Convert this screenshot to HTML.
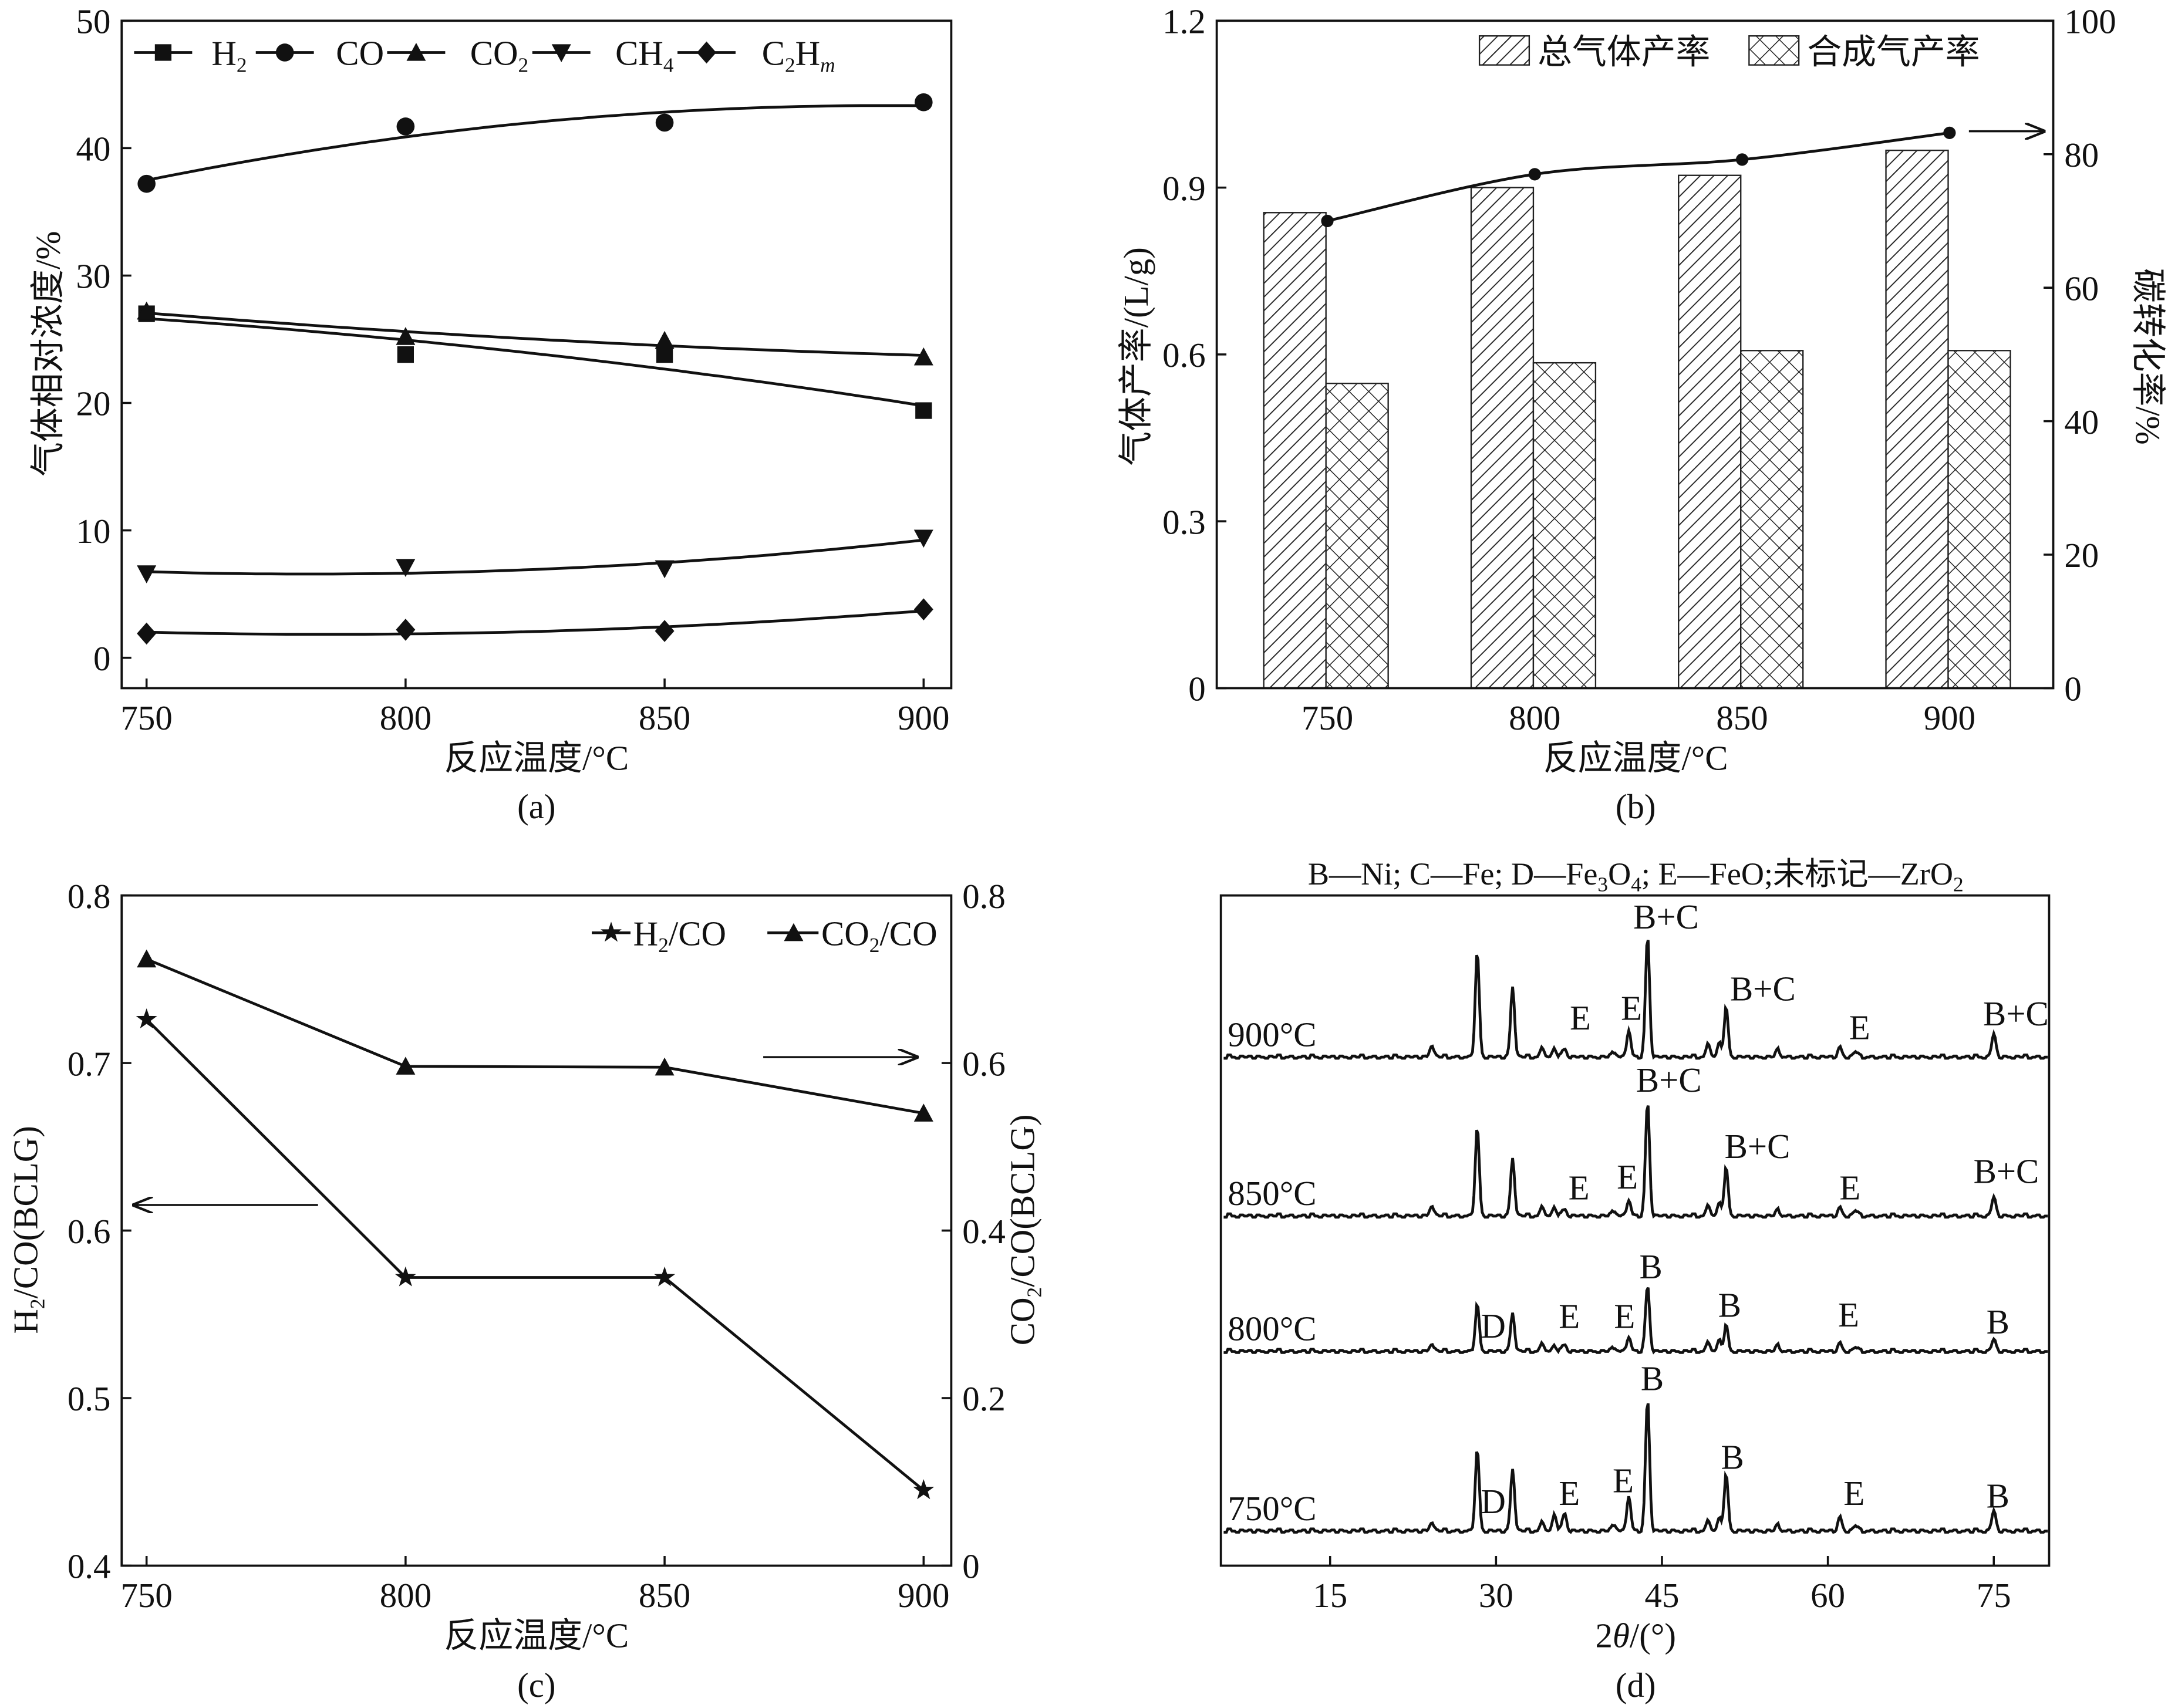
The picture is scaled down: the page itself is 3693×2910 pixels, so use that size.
<!DOCTYPE html>
<html><head><meta charset="utf-8"><style>
html,body{margin:0;padding:0;background:#fff}
svg{display:block}
text{font-family:"Liberation Serif","Noto Serif CJK SC","Noto Sans CJK SC",serif;fill:#111}
.cj{font-family:"Liberation Serif","Noto Sans CJK SC",sans-serif}
</style></head><body>
<svg id="fig" width="3693" height="2910" viewBox="0 0 1568 1236" preserveAspectRatio="none" xmlns="http://www.w3.org/2000/svg">
<defs>
<pattern id="diag" patternUnits="userSpaceOnUse" width="7" height="7" patternTransform="rotate(45)"><rect width="7" height="7" fill="#fff"/><line x1="0" y1="0" x2="0" y2="7" stroke="#222" stroke-width="1.6"/></pattern>
<pattern id="cross" patternUnits="userSpaceOnUse" width="10" height="10" patternTransform="rotate(45)"><rect width="10" height="10" fill="#fff"/><line x1="0" y1="0" x2="0" y2="10" stroke="#222" stroke-width="1.3"/><line x1="0" y1="0" x2="10" y2="0" stroke="#222" stroke-width="1.3"/></pattern>
<marker id="ah" markerWidth="10" markerHeight="8" refX="9" refY="4" orient="auto"><path d="M0,0 L10,4 L0,8" fill="none" stroke="#111" stroke-width="1.2"/></marker>
</defs>
<g id="pa"></g>
<g id="pb"></g>
<g id="pc"></g>
<g id="pd"></g>
</svg>
<script>
// ---- Panel a data ----
const tempsA = [750, 800, 850, 900];
const seriesNamesA = ["H2", "CO", "CO2", "CH4", "C2Hm"];
const h2Vals = [27.0, 23.8, 23.8, 19.4];
const coVals = [37.2, 41.7, 42.0, 43.6];
const co2Vals = [27.2, 25.2, 24.9, 23.6];
const ch4Vals = [6.6, 7.1, 7.0, 9.4];
const c2hmVals = [1.9, 2.2, 2.1, 3.8];
const yTicksA = [0, 10, 20, 30, 40, 50];
// ---- Panel b data ----
const tempsB = ["750", "800", "850", "900"];
const totalYield = [0.855, 0.900, 0.922, 0.967];
const syngasYield = [0.548, 0.585, 0.607, 0.607];
const carbonConv = [70.0, 77.0, 79.2, 83.2];
const yTicksBL = [0, 0.3, 0.6, 0.9, 1.2];
const yTicksBR = [0, 20, 40, 60, 80, 100];
// ---- Panel c data ----
const tempsC = [750, 800, 850, 900];
const h2coVals = [0.726, 0.572, 0.572, 0.445];
const co2coVals = [0.724, 0.596, 0.595, 0.540];
const yTicksCL = [0.4, 0.5, 0.6, 0.7, 0.8];
const yTicksCR = [0, 0.2, 0.4, 0.6, 0.8];
// ---- Panel d data (XRD) ----
const xTicksD = [15, 30, 45, 60, 75];
const xrdLabels = ["900°C", "850°C", "800°C", "750°C"];
const peakAngles = [24.2, 28.3, 31.5, 34.2, 35.3, 36.2, 40.7, 42.0, 43.7, 49.2, 50.2, 50.8, 55.5, 61.1, 62.5, 75.0];
const peaks900 = [9, 75, 51, 7, 6, 6, 4, 20, 88, 10, 10, 35, 5, 7, 4, 17];
const peaks850 = [8, 63, 42, 7, 6, 5, 4, 12, 83, 8, 9, 34, 4, 6, 4, 14];
const peaks800 = [6, 33, 28, 6, 4, 5, 3, 11, 48, 7, 8, 18, 4, 6, 3, 9];
const peaks750 = [7, 58, 45, 7, 12, 13, 5, 26, 96, 8, 9, 40, 4, 10, 4, 15];
const baseNoise = [0, 1, -1, 1, 0, -1, 1, 0, 2, -1, 0, 1, -1, 0, 1, -1, 2, 0, -1, 1];

const NS = "http://www.w3.org/2000/svg";
function el(parent, tag, attrs, txt) {
  const e = document.createElementNS(NS, tag);
  for (const k in attrs) e.setAttribute(k, attrs[k]);
  if (txt !== undefined) e.textContent = txt;
  parent.appendChild(e);
  return e;
}
function smooth(pts) {
  let d = "M" + pts[0][0] + "," + pts[0][1];
  for (let i = 0; i < pts.length - 1; i++) {
    const p0 = pts[i - 1] || pts[i], p1 = pts[i], p2 = pts[i + 1], p3 = pts[i + 2] || p2;
    const c1 = [p1[0] + (p2[0] - p0[0]) / 6, p1[1] + (p2[1] - p0[1]) / 6];
    const c2 = [p2[0] - (p3[0] - p1[0]) / 6, p2[1] - (p3[1] - p1[1]) / 6];
    d += " C" + c1 + " " + c2 + " " + p2;
  }
  return d;
}
// least-squares quadratic fit
function quadFit(xs, ys) {
  const n = xs.length; let S = [0,0,0,0,0], T = [0,0,0];
  for (let i = 0; i < n; i++) { const x = xs[i]; for (let k = 0; k < 5; k++) S[k] += Math.pow(x, k); for (let k = 0; k < 3; k++) T[k] += ys[i] * Math.pow(x, k); }
  const A = [[S[0],S[1],S[2],T[0]],[S[1],S[2],S[3],T[1]],[S[2],S[3],S[4],T[2]]];
  for (let i = 0; i < 3; i++) { for (let j = i + 1; j < 3; j++) { const f = A[j][i] / A[i][i]; for (let k = i; k < 4; k++) A[j][k] -= f * A[i][k]; } }
  const c = [0,0,0];
  for (let i = 2; i >= 0; i--) { let s = A[i][3]; for (let k = i + 1; k < 3; k++) s -= A[i][k] * c[k]; c[i] = s / A[i][i]; }
  return x => c[0] + c[1] * x + c[2] * x * x;
}
function marker(g, type, x, y, s) {
  let m;
  if (type === "square") m = el(g, "rect", {x: x - s, y: y - s, width: 2 * s, height: 2 * s, fill: "#111"});
  else if (type === "circle") m = el(g, "circle", {cx: x, cy: y, r: s + 0.5, fill: "#111"});
  else if (type === "tri") m = el(g, "polygon", {points: `${x},${y - s - 1} ${x - s - 1},${y + s} ${x + s + 1},${y + s}`, fill: "#111"});
  else if (type === "itri") m = el(g, "polygon", {points: `${x},${y + s + 1} ${x - s - 1},${y - s} ${x + s + 1},${y - s}`, fill: "#111"});
  else if (type === "diamond") m = el(g, "polygon", {points: `${x},${y - s - 2} ${x + s + 1},${y} ${x},${y + s + 2} ${x - s - 1},${y}`, fill: "#111"});
  else if (type === "star") {
    let p = [];
    for (let i = 0; i < 10; i++) { const r = i % 2 ? s * 0.45 : s + 1; const a = -Math.PI / 2 + i * Math.PI / 5; p.push((x + r * Math.cos(a)).toFixed(1) + "," + (y + r * Math.sin(a)).toFixed(1)); }
    m = el(g, "polygon", {points: p.join(" "), fill: "#111"});
  }
  
  
  return m;
}
function frame(g, x0, y0, x1, y1) {
  const r = el(g, "rect", {x: x0, y: y0, width: x1 - x0, height: y1 - y0, fill: "none", stroke: "#111", "stroke-width": 1.6});
  
  
}
function label(g, x, y, txt, size, anchor, name, cls) {
  const t = el(g, "text", {x: x, y: y, "font-size": size, "text-anchor": anchor || "middle"});
  if (cls) t.setAttribute("class", cls);
  t.innerHTML = txt;
  
  
  return t;
}

// ================= Panel a =================
(function () {
  const g = document.getElementById("pa");
  const X0 = 88, X1 = 688, Y0 = 15, Y1 = 498;
  const xs = v => 106 + (v - 750) * (668 - 106) / 150;
  const ys = v => 476 - v * (476 - 15) / 50;
  frame(g, X0, Y0, X1, Y1);
  yTicksA.forEach(v => {
    el(g, "line", {x1: X0, x2: X0 + 7, y1: ys(v), y2: ys(v), stroke: "#111", "stroke-width": 1.5});
    label(g, X0 - 8, ys(v) + 9, v, 25, "end", "y-tick-label");
  });
  tempsA.forEach(v => {
    el(g, "line", {x1: xs(v), x2: xs(v), y1: Y1, y2: Y1 - 7, stroke: "#111", "stroke-width": 1.5});
    label(g, xs(v), Y1 + 30, v, 25, "middle", "x-tick-label");
  });
  label(g, 388, 557, "反应温度/°C", 25, "middle", "x-axis-title", "cj");
  label(g, 388, 592, "(a)", 25, "middle", "panel-label");
  const yt = label(g, 0, 0, "气体相对浓度/%", 25, "middle", "y-axis-title", "cj");
  yt.setAttribute("transform", "translate(43,256) rotate(-90)");
  const all = [h2Vals, coVals, co2Vals, ch4Vals, c2hmVals];
  const mk = ["square", "circle", "tri", "itri", "diamond"];
  all.forEach((vals, i) => {
    const sg = el(g, "g", {});
    
    
    const f = quadFit(tempsA.map(t => (t - 825) / 75), vals);
    let d = "";
    for (let t = 750; t <= 900; t += 3) d += (d ? " L" : "M") + xs(t).toFixed(1) + "," + ys(f((t - 825) / 75)).toFixed(1);
    el(sg, "path", {d: d, fill: "none", stroke: "#111", "stroke-width": 2});
    tempsA.forEach((t, j) => marker(sg, mk[i], xs(t), ys(vals[j]), 6));
  });
  // legend
  const lg = el(g, "g", {});
  
  
  const lm = [118, 206, 301, 406, 511];
  const lt = ["H<tspan font-size='15' dy='5'>2</tspan>", "CO", "CO<tspan font-size='15' dy='5'>2</tspan>", "CH<tspan font-size='15' dy='5'>4</tspan>", "C<tspan font-size='15' dy='5'>2</tspan><tspan dy='-5'>H</tspan><tspan font-size='15' dy='5' font-style='italic'>m</tspan>"];
  const lto = [153, 243, 340, 445, 551];
  lm.forEach((x, i) => {
    el(lg, "line", {x1: x - 21, x2: x + 21, y1: 38, y2: 38, stroke: "#111", "stroke-width": 2});
    marker(lg, mk[i], x, 38, 6);
    label(lg, lto[i], 47, lt[i], 25, "start", "legend-entry");
  });
})();

// ================= Panel b =================
(function () {
  const g = document.getElementById("pb");
  const X0 = 880, X1 = 1485, Y0 = 15, Y1 = 498;
  const xc = i => 960 + i * 150;
  const yl = v => Y1 - v * (Y1 - Y0) / 1.2;
  const yr = v => Y1 - v * (Y1 - Y0) / 100;
  tempsB.forEach((t, i) => {
    const b1 = el(g, "rect", {x: xc(i) - 46, y: yl(totalYield[i]), width: 45, height: Y1 - yl(totalYield[i]), fill: "url(#diag)", stroke: "#222", "stroke-width": 1});
    
    
    const b2 = el(g, "rect", {x: xc(i) - 1, y: yl(syngasYield[i]), width: 45, height: Y1 - yl(syngasYield[i]), fill: "url(#cross)", stroke: "#222", "stroke-width": 1});
    
    
    label(g, xc(i), Y1 + 30, t, 25, "middle", "x-tick-label");
  });
  frame(g, X0, Y0, X1, Y1);
  yTicksBL.forEach(v => {
    el(g, "line", {x1: X0, x2: X0 + 7, y1: yl(v), y2: yl(v), stroke: "#111", "stroke-width": 1.5});
    label(g, X0 - 8, yl(v) + 9, v === 0 ? "0" : v.toFixed(1), 25, "end", "y-left-tick-label");
  });
  yTicksBR.forEach(v => {
    el(g, "line", {x1: X1, x2: X1 - 7, y1: yr(v), y2: yr(v), stroke: "#111", "stroke-width": 1.5});
    label(g, X1 + 8, yr(v) + 9, v, 25, "start", "y-right-tick-label");
  });
  const pts = tempsB.map((t, i) => [xc(i), yr(carbonConv[i])]);
  const lg = el(g, "g", {});
  
  
  el(lg, "path", {d: smooth(pts), fill: "none", stroke: "#111", "stroke-width": 2});
  pts.forEach(p => marker(lg, "circle", p[0], p[1], 4));
  const ar = el(g, "line", {x1: 1424, y1: 95, x2: 1478, y2: 95, stroke: "#111", "stroke-width": 1.5, "marker-end": "url(#ah)"});
  
  
  label(g, 1183, 557, "反应温度/°C", 25, "middle", "x-axis-title", "cj");
  label(g, 1183, 592, "(b)", 25, "middle", "panel-label");
  const yt = label(g, 0, 0, "气体产率/(L/g)", 25, "middle", "y-left-axis-title", "cj");
  yt.setAttribute("transform", "translate(830,258) rotate(-90)");
  const yt2 = label(g, 0, 0, "碳转化率/%", 25, "middle", "y-right-axis-title", "cj");
  yt2.setAttribute("transform", "translate(1545,258) rotate(90)");
  const lg2 = el(g, "g", {});
  
  
  el(lg2, "rect", {x: 1070, y: 26, width: 36, height: 21, fill: "url(#diag)", stroke: "#222"});
  label(lg2, 1112, 46, "总气体产率", 25, "start", "legend-entry-total", "cj");
  el(lg2, "rect", {x: 1265, y: 26, width: 36, height: 21, fill: "url(#cross)", stroke: "#222"});
  label(lg2, 1307, 46, "合成气产率", 25, "start", "legend-entry-syngas", "cj");
})();

// ================= Panel c =================
(function () {
  const g = document.getElementById("pc");
  const X0 = 88, X1 = 688, Y0 = 648, Y1 = 1133;
  const xs = v => 106 + (v - 750) * (668 - 106) / 150;
  const yl = v => Y1 - (v - 0.4) * (Y1 - Y0) / 0.4;
  const yr = v => Y1 - v * (Y1 - Y0) / 0.8;
  frame(g, X0, Y0, X1, Y1);
  yTicksCL.forEach(v => {
    el(g, "line", {x1: X0, x2: X0 + 7, y1: yl(v), y2: yl(v), stroke: "#111", "stroke-width": 1.5});
    label(g, X0 - 8, yl(v) + 9, v.toFixed(1), 25, "end", "y-left-tick-label");
  });
  yTicksCR.forEach(v => {
    el(g, "line", {x1: X1, x2: X1 - 7, y1: yr(v), y2: yr(v), stroke: "#111", "stroke-width": 1.5});
    label(g, X1 + 8, yr(v) + 9, v === 0 ? "0" : v.toFixed(1), 25, "start", "y-right-tick-label");
  });
  tempsC.forEach(v => {
    el(g, "line", {x1: xs(v), x2: xs(v), y1: Y1, y2: Y1 - 7, stroke: "#111", "stroke-width": 1.5});
    label(g, xs(v), Y1 + 30, v, 25, "middle", "x-tick-label");
  });
  const s1 = el(g, "g", {});
  
  
  const p1 = tempsC.map((t, i) => [xs(t), yl(h2coVals[i])]);
  el(s1, "polyline", {points: p1.join(" "), fill: "none", stroke: "#111", "stroke-width": 2});
  p1.forEach(p => marker(s1, "star", p[0], p[1], 7));
  const s2 = el(g, "g", {});
  
  
  const p2 = tempsC.map((t, i) => [xs(t), yr(co2coVals[i])]);
  el(s2, "polyline", {points: p2.join(" "), fill: "none", stroke: "#111", "stroke-width": 2});
  p2.forEach(p => marker(s2, "tri", p[0], p[1], 6));
  const a1 = el(g, "line", {x1: 552, y1: 765, x2: 663, y2: 765, stroke: "#111", "stroke-width": 1.5, "marker-end": "url(#ah)"});
  
  
  const a2 = el(g, "line", {x1: 230, y1: 872, x2: 97, y2: 872, stroke: "#111", "stroke-width": 1.5, "marker-end": "url(#ah)"});
  
  
  const lg = el(g, "g", {});
  
  
  el(lg, "line", {x1: 428, x2: 456, y1: 675, y2: 675, stroke: "#111", "stroke-width": 2});
  marker(lg, "star", 442, 675, 7);
  label(lg, 458, 684, "H<tspan font-size='15' dy='5'>2</tspan><tspan dy='-5'>/CO</tspan>", 25, "start", "legend-entry-h2-co");
  el(lg, "line", {x1: 555, x2: 592, y1: 675, y2: 675, stroke: "#111", "stroke-width": 2});
  marker(lg, "tri", 574, 675, 6);
  label(lg, 594, 684, "CO<tspan font-size='15' dy='5'>2</tspan><tspan dy='-5'>/CO</tspan>", 25, "start", "legend-entry-co2-co");
  label(g, 388, 1192, "反应温度/°C", 25, "middle", "x-axis-title", "cj");
  label(g, 388, 1228, "(c)", 25, "middle", "panel-label");
  const yt = label(g, 0, 0, "H<tspan font-size='15' dy='5'>2</tspan><tspan dy='-5'>/CO(BCLG)</tspan>", 25, "middle", "y-left-axis-title");
  yt.setAttribute("transform", "translate(27,890) rotate(-90)");
  const yt2 = label(g, 0, 0, "CO<tspan font-size='15' dy='5'>2</tspan><tspan dy='-5'>/CO(BCLG)</tspan>", 25, "middle", "y-right-axis-title");
  yt2.setAttribute("transform", "translate(748,890) rotate(-90)");
})();

// ================= Panel d =================
(function () {
  const g = document.getElementById("pd");
  const X0 = 883, X1 = 1482, Y0 = 648, Y1 = 1133;
  const xs = v => 962 + (v - 15) * 8;
  const bases = [765, 880, 978, 1108];
  const peaksAll = [peaks900, peaks850, peaks800, peaks750];
  frame(g, X0, Y0, X1, Y1);
  xTicksD.forEach(v => {
    el(g, "line", {x1: xs(v), x2: xs(v), y1: Y1, y2: Y1 - 7, stroke: "#111", "stroke-width": 1.5});
    label(g, xs(v), Y1 + 30, v, 25, "middle", "x-tick-label");
  });
  peaksAll.forEach((pk, k) => {
    let d = "";
    for (let px = X0 + 2; px <= X1 - 1; px += 1) {
      const ang = 15 + (px - 962) / 8;
      let y = baseNoise[Math.floor(px / 3) % baseNoise.length] * 0.8;
      peakAngles.forEach((a, j) => { const w = 0.18; y += pk[j] * Math.exp(-((ang - a) * (ang - a)) / (2 * w * w)); });
      d += (d ? " L" : "M") + px + "," + (bases[k] - y).toFixed(1);
    }
    const p = el(g, "path", {d: d, fill: "none", stroke: "#111", "stroke-width": 2});
    
    
    label(g, 888, bases[k] - 8, xrdLabels[k], 25, "start", "pattern-label");
  });
  const ann = [
    [1205, 672, "B+C"], [1143, 745, "E"], [1180, 738, "E"], [1275, 724, "B+C"], [1345, 752, "E"], [1458, 742, "B+C"],
    [1207, 790, "B+C"], [1142, 868, "E"], [1177, 860, "E"], [1271, 838, "B+C"], [1338, 868, "E"], [1451, 856, "B+C"],
    [1194, 925, "B"], [1080, 968, "D"], [1135, 961, "E"], [1175, 961, "E"], [1251, 953, "B"], [1337, 960, "E"], [1445, 965, "B"],
    [1195, 1006, "B"], [1080, 1095, "D"], [1135, 1089, "E"], [1174, 1080, "E"], [1253, 1063, "B"], [1341, 1089, "E"], [1445, 1091, "B"]
  ];
  ann.forEach(a => label(g, a[0], a[1], a[2], 25, "middle", "peak-annotation"));
  label(g, 1183, 640, "B—Ni; C—Fe; D—Fe<tspan font-size='15' dy='5'>3</tspan><tspan dy='-5'>O</tspan><tspan font-size='15' dy='5'>4</tspan><tspan dy='-5'>; E—FeO;未标记—ZrO</tspan><tspan font-size='15' dy='5'>2</tspan>", 23, "middle", "phase-key", "cj");
  label(g, 1183, 1192, "2<tspan font-style='italic'>θ</tspan>/(°)", 25, "middle", "x-axis-title");
  label(g, 1183, 1228, "(d)", 25, "middle", "panel-label");
})();
</script>
</body></html>
